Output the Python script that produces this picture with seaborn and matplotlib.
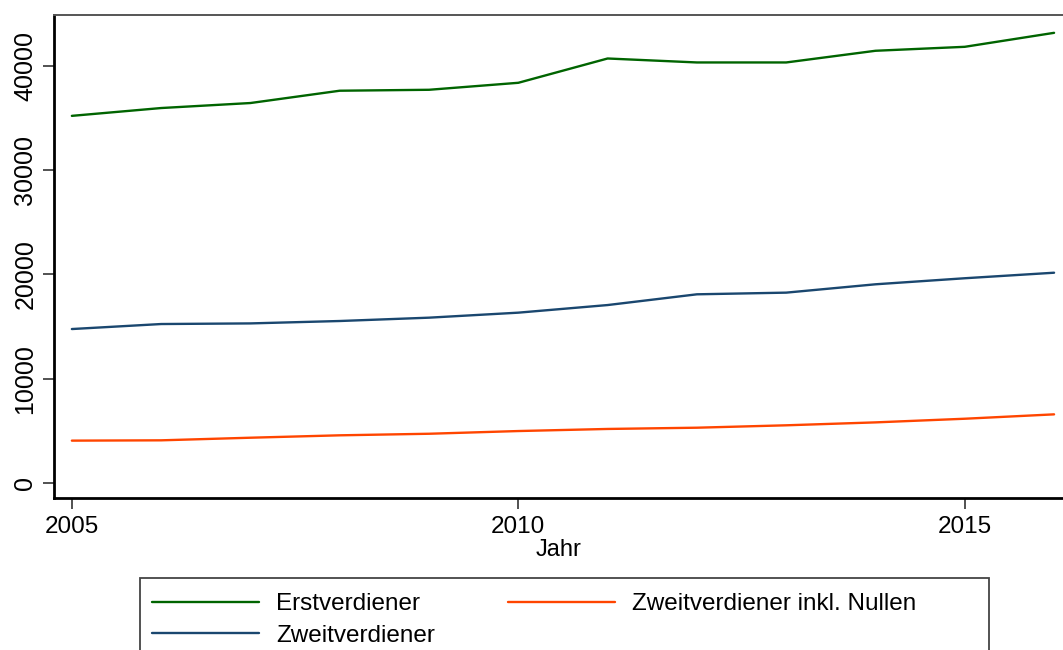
import numpy as np
import pandas as pd
import matplotlib.pyplot as plt
import seaborn as sns
from matplotlib.patches import Rectangle

# data
jahre = list(range(2005, 2017))
erstverdiener = [35200, 35950, 36430, 37610, 37700, 38370, 40700, 40320, 40320, 41440, 41820, 43160]
zweitverdiener = [14760, 15240, 15300, 15530, 15850, 16330, 17060, 18090, 18250, 19050, 19630, 20160]
zweit_nullen = [4060, 4090, 4340, 4570, 4720, 4980, 5180, 5300, 5530, 5810, 6160, 6580]

namen = ["Erstverdiener", "Zweitverdiener", "Zweitverdiener inkl. Nullen"]
farben = {"Erstverdiener": "#006400",
          "Zweitverdiener": "#1a476f",
          "Zweitverdiener inkl. Nullen": "#ff4500"}

df = pd.DataFrame({
    "Jahr": jahre * 3,
    "wert": erstverdiener + zweitverdiener + zweit_nullen,
    "serie": [n for n in namen for _ in jahre],
})

sns.set_style("ticks")
plt.rcParams["font.family"] = ["Liberation Sans", "DejaVu Sans"]
plt.rcParams["text.color"] = "black"
plt.rcParams["axes.labelcolor"] = "black"

W, H = 1063, 650
fig = plt.figure(figsize=(W / 100, H / 100), dpi=100)
ax = fig.add_axes([54 / W, 152 / H, 1 - 54 / W, 483 / H])

sns.lineplot(data=df, x="Jahr", y="wert", hue="serie", hue_order=namen,
             palette=farben, linewidth=1.7, ax=ax, legend=False)

ax.set_xlim(2004.8, 2016.1)
ax.set_ylim(-1440, 44870)
ax.set_xticks([2005, 2010, 2015])
ax.set_yticks([0, 10000, 20000, 30000, 40000])
ax.tick_params(axis="both", length=8, width=1.2, colors="#333333", labelcolor="black")
ax.tick_params(axis="x", labelsize=17.5, pad=5)
ax.tick_params(axis="y", labelsize=18, pad=4)
plt.setp(ax.get_yticklabels(), rotation=90, va="center")
ax.set_xlabel("Jahr", fontsize=17, labelpad=1)
ax.set_ylabel("")

for s in ["left", "bottom"]:
    ax.spines[s].set_linewidth(2)
    ax.spines[s].set_color("black")
ax.spines["top"].set_color("#555555")
ax.spines["top"].set_linewidth(1.4)
ax.spines["right"].set_visible(False)

# legend box (runs off the bottom edge like the reference)
fig.patches.append(Rectangle((140 / W, -10 / H), (989 - 140) / W, (72 + 10) / H,
                             transform=fig.transFigure, fill=False,
                             edgecolor="#444444", linewidth=1.3))

handles = [plt.Line2D([], [], color=farben[n], lw=1.7) for n in namen]
leg = fig.legend(handles, namen, ncol=2, loc="upper left",
                 bbox_to_anchor=(152 / W, (H - 593) / H),
                 fontsize=17.5, frameon=False, labelcolor="black",
                 handlelength=4.4, handletextpad=0.7, columnspacing=3.0,
                 labelspacing=0.4, borderpad=0, borderaxespad=0)

fig.savefig("out.png", dpi=100)
